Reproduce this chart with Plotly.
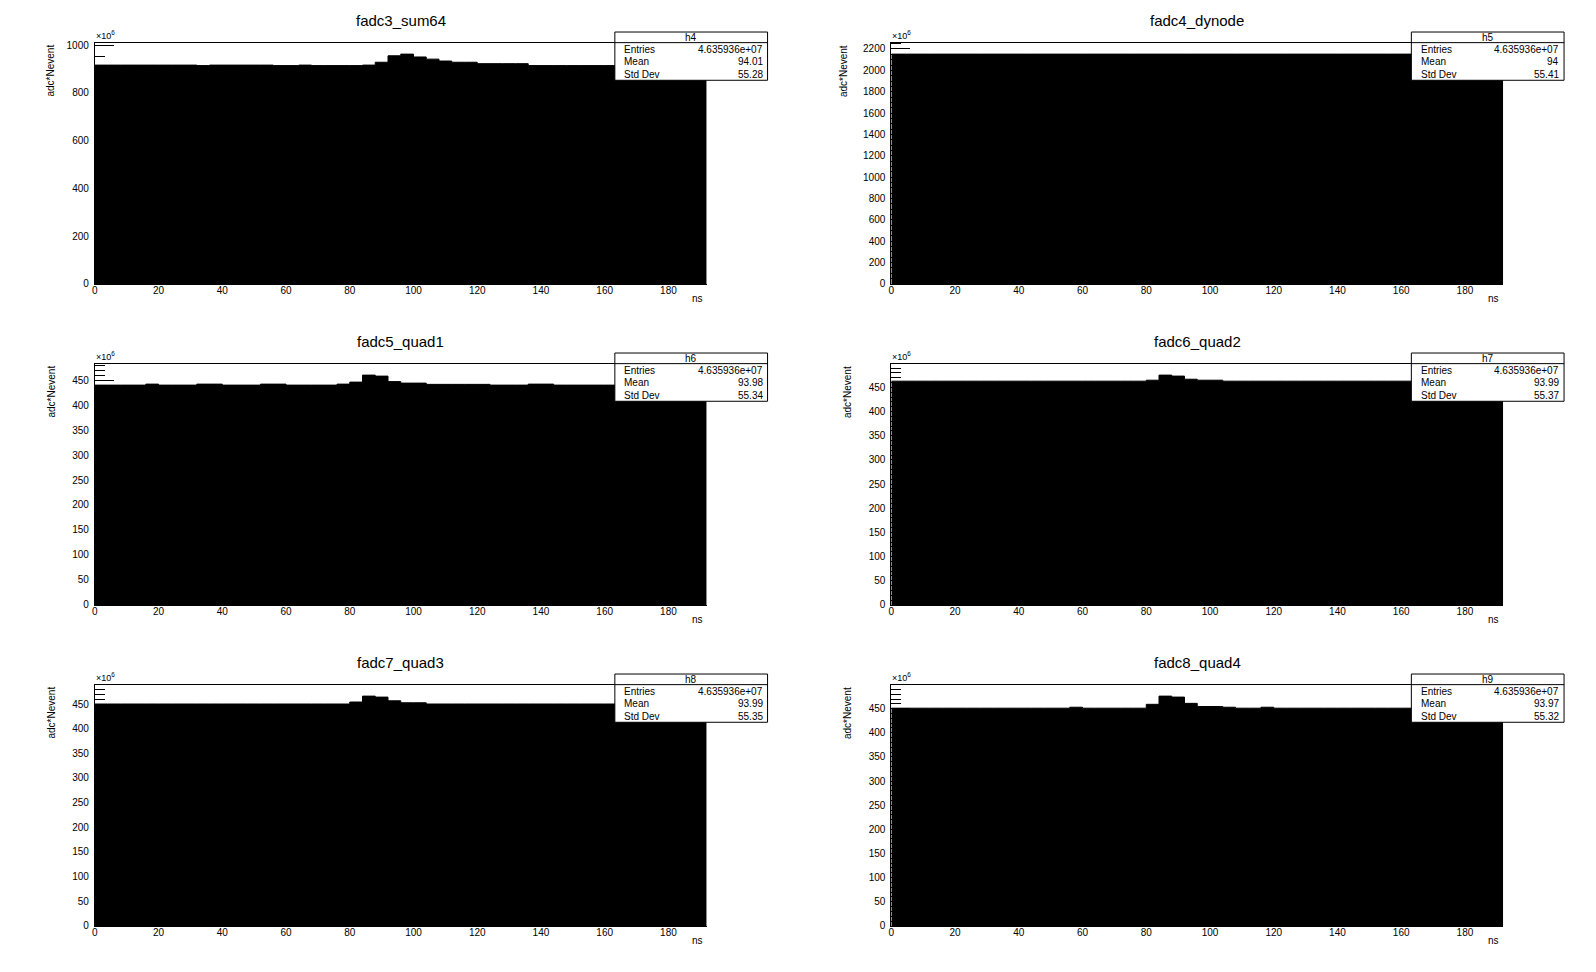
import plotly.graph_objects as go

# ---------------- data (units of 1e6 adc*Nevent) ----------------
bin_edges = [0, 4, 8, 12, 16, 20, 24, 28, 32, 36, 40, 44, 48, 52, 56, 60, 64, 68, 72, 76,
             80, 84, 88, 92, 96, 100, 104, 108, 112, 116, 120, 124, 128, 132, 136, 140,
             144, 148, 152, 156, 160, 164, 168, 172, 176, 180, 184, 188, 192]

fadc3_sum64 = [916, 916, 916, 916, 916, 916, 916, 916, 914, 916, 916, 916, 916, 916, 914, 914,
               916, 914, 914, 914, 914, 916, 928, 955, 962, 950, 941, 933, 928, 928, 922, 922,
               922, 922, 914, 914, 914, 914, 914, 914, 914, 914, 914, 914, 914, 914, 914, 914]

fadc4_dynode = [2152, 2152, 2152, 2152, 2152, 2152, 2152, 2152, 2152, 2152, 2152, 2152,
                2152, 2152, 2152, 2152, 2152, 2152, 2152, 2152, 2152, 2152, 2152, 2152,
                2152, 2152, 2152, 2152, 2152, 2152, 2152, 2152, 2152, 2152, 2152, 2152,
                2152, 2152, 2152, 2152, 2152, 2152, 2152, 2152, 2152, 2152, 2152, 2152]

fadc5_quad1 = [440, 440, 440, 440, 442, 440, 440, 440, 442, 442, 440, 440, 440, 442, 442, 440,
               440, 440, 440, 442, 446, 460, 458, 447, 444, 444, 441.5, 441.5, 441.5, 441.5, 441.5, 440,
               440, 440, 442, 442, 440, 440, 440, 440, 440, 440, 440, 440, 440, 440, 440, 440]

fadc6_quad2 = [463, 463, 463, 463, 463, 463, 463, 463, 463, 463, 463, 463, 463, 463, 463, 463,
               463, 463, 463, 463, 465, 475.5, 473.5, 467, 465, 465, 463, 463, 463, 463, 463, 463,
               463, 463, 463, 463, 463, 463, 463, 463, 463, 463, 463, 463, 463, 463, 463, 463]

fadc7_quad3 = [450, 450, 450, 450, 450, 450, 450, 450, 450, 450, 450, 450, 450, 450, 450, 450,
               450, 450, 450, 450, 454, 466, 464, 456.5, 452.5, 452.5, 450, 450, 450, 450, 450, 450,
               450, 450, 450, 450, 450, 450, 450, 450, 450, 450, 450, 450, 450, 450, 450, 450]

fadc8_quad4 = [451, 451, 451, 451, 451, 451, 451, 451, 451, 451, 451, 451,
               451, 451, 453, 451, 451, 451, 451, 451, 459, 476, 474, 461,
               454.5, 454.5, 453, 451, 451, 453, 451, 451, 451, 451, 451, 451,
               451, 451, 451, 451, 451, 451, 451, 451, 451, 451, 451, 451]

titles = ["fadc3_sum64", "fadc4_dynode", "fadc5_quad1", "fadc6_quad2", "fadc7_quad3", "fadc8_quad4"]
series = [fadc3_sum64, fadc4_dynode, fadc5_quad1, fadc6_quad2, fadc7_quad3, fadc8_quad4]
hist_names = ["h4", "h5", "h6", "h7", "h8", "h9"]
entries = ["4.635936e+07"] * 6
means = ["94.01", "94", "93.98", "93.99", "93.99", "93.97"]
std_devs = ["55.28", "55.41", "55.34", "55.37", "55.35", "55.32"]
x_ticks = [0, 20, 40, 60, 80, 100, 120, 140, 160, 180]
y_dtick = [200, 200, 50, 50, 50, 50]
y_minor = [50, 50, 10, 10, 10, 10]
x_title = "ns"
y_title = "adc*Nevent"
exponent_label = "×10<sup>6</sup>"

# ---------------- geometry (pixels) ----------------
W, H = 1596, 972
PAD_W, PAD_H = 798, 324
FR_L, FR_R = 92, 705
FR_T, FR_B = 40, 283.5
FONT = "Liberation Sans, Arial, Helvetica, sans-serif"
ytitle_x = [48, 44, 49, 48, 49, 48]


def px(x):
    return x / W


def py(y):
    return 1 - y / H


fig = go.Figure()
annotations = []
shapes = []

for i, vals in enumerate(series):
    r, c = divmod(i, 2)
    ox, oy = c * PAD_W, r * PAD_H
    n = i + 1
    xa = "x" if n == 1 else f"x{n}"
    ya = "y" if n == 1 else f"y{n}"
    xkey = "xaxis" if n == 1 else f"xaxis{n}"
    ykey = "yaxis" if n == 1 else f"yaxis{n}"

    fig.add_trace(go.Scatter(
        x=bin_edges, y=vals + [vals[-1]], xaxis=xa, yaxis=ya,
        mode="lines", line=dict(shape="hv", color="black", width=1),
        fill="tozeroy", fillcolor="black", hoverinfo="skip", showlegend=False))

    ymax = 1.05 * max(vals)
    fig.layout[xkey] = dict(
        domain=[px(ox + FR_L), px(ox + FR_R)], anchor=ya,
        range=[bin_edges[0], bin_edges[-1]], tickvals=x_ticks,
        ticks="inside", ticklen=7, tickcolor="black",
        ticklabelstandoff=-3,
        showline=True, mirror=True, linecolor="black", linewidth=1,
        showgrid=False, zeroline=False, fixedrange=True,
        tickfont=dict(family=FONT, size=10, color="black"))
    fig.layout[ykey] = dict(
        domain=[py(oy + FR_B), py(oy + FR_T)], anchor=xa,
        range=[0, ymax], dtick=y_dtick[i], tick0=0,
        ticks="inside", ticklen=19, tickcolor="black",
        ticklabelstandoff=3,
        minor=dict(dtick=y_minor[i], tick0=0, ticks="inside", ticklen=10,
                   tickcolor="black", showgrid=False),
        showline=True, mirror=False, linecolor="black", linewidth=1,
        showgrid=False, zeroline=False, fixedrange=True,
        tickfont=dict(family=FONT, size=10, color="black"))

    # title
    annotations.append(dict(
        x=px(ox + (FR_L + FR_R) / 2), y=py(oy + 17.5), xref="paper", yref="paper",
        text=titles[i], showarrow=False, xanchor="center", yanchor="middle",
        font=dict(family=FONT, size=15, color="black")))
    # exponent
    annotations.append(dict(
        x=px(ox + FR_L - 1), y=py(oy + 32), xref="paper", yref="paper",
        text=exponent_label, showarrow=False, xanchor="left", yanchor="middle",
        font=dict(family=FONT, size=9, color="black")))
    # y title
    annotations.append(dict(
        x=px(ox + ytitle_x[i]), y=py(oy + FR_T), xref="paper", yref="paper",
        text=y_title, showarrow=False, textangle=-90, xanchor="center", yanchor="top",
        font=dict(family=FONT, size=10, color="black")))
    # x title
    annotations.append(dict(
        x=px(ox + FR_R - 2), y=py(oy + 298.5), xref="paper", yref="paper",
        text=x_title, showarrow=False, xanchor="right", yanchor="middle",
        font=dict(family=FONT, size=10, color="black")))

    # stats box
    bx0, bx1 = ox + 613, ox + 766
    by0, by1 = oy + 29.3, oy + 78
    shapes.append(dict(type="rect", xref="paper", yref="paper",
                       x0=px(bx0), x1=px(bx1), y0=py(by1), y1=py(by0),
                       fillcolor="white", line=dict(color="black", width=1), layer="above"))
    shapes.append(dict(type="line", xref="paper", yref="paper",
                       x0=px(bx0), x1=px(bx1), y0=py(oy + 40), y1=py(oy + 40),
                       line=dict(color="black", width=1), layer="above"))
    annotations.append(dict(
        x=px((bx0 + bx1) / 2), y=py(oy + 34.5), xref="paper", yref="paper",
        text=hist_names[i], showarrow=False, xanchor="center", yanchor="middle",
        font=dict(family=FONT, size=10, color="black")))
    for lab, val, yy in [("Entries", entries[i], 46.5), ("Mean", means[i], 59.5),
                         ("Std Dev", std_devs[i], 72)]:
        annotations.append(dict(
            x=px(bx0 + 7.5), y=py(oy + yy), xref="paper", yref="paper",
            text=lab, showarrow=False, xanchor="left", yanchor="middle",
            font=dict(family=FONT, size=10, color="black")))
        annotations.append(dict(
            x=px(bx1 - 3), y=py(oy + yy), xref="paper", yref="paper",
            text=val, showarrow=False, xanchor="right", yanchor="middle",
            font=dict(family=FONT, size=10, color="black")))

fig.update_layout(
    width=W, height=H, margin=dict(l=0, r=0, t=0, b=0, pad=0),
    paper_bgcolor="white", plot_bgcolor="white",
    annotations=annotations, shapes=shapes, showlegend=False)

fig.write_html("out.html", config={"displayModeBar": False},
               post_script="document.body.style.margin='0';")
